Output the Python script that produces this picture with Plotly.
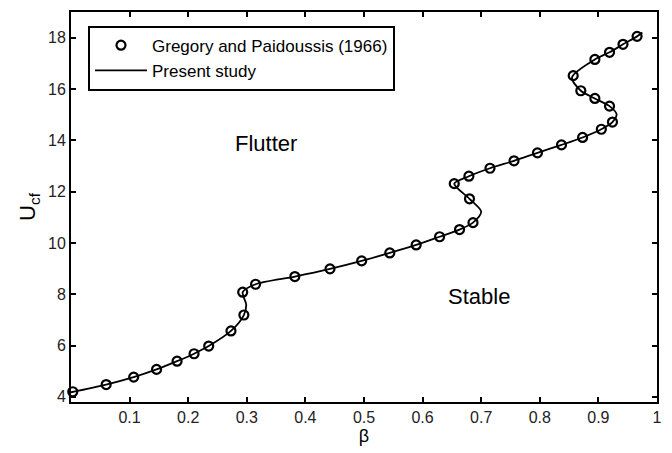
import plotly.graph_objects as go

# Experimental data: Gregory and Paidoussis (1966)
beta_exp = [0.003, 0.060, 0.107, 0.146, 0.181, 0.210, 0.235, 0.273, 0.295, 0.293,
            0.315, 0.382, 0.442, 0.496, 0.544, 0.589, 0.629, 0.663, 0.686, 0.680,
            0.654, 0.679, 0.715, 0.756, 0.796, 0.837, 0.873, 0.905, 0.924, 0.919,
            0.894, 0.870, 0.857, 0.894, 0.919, 0.942, 0.966]
U_exp = [4.20, 4.48, 4.77, 5.07, 5.39, 5.68, 5.98, 6.57, 7.19, 8.08,
         8.39, 8.69, 8.99, 9.30, 9.61, 9.92, 10.24, 10.52, 10.79, 11.72,
         12.31, 12.60, 12.91, 13.20, 13.51, 13.82, 14.11, 14.43, 14.71, 15.33,
         15.63, 15.93, 16.52, 17.15, 17.43, 17.74, 18.05]

# Present study curve
beta_th = [0.000, 0.060, 0.107, 0.146, 0.181, 0.210, 0.235, 0.273, 0.295, 0.299,
           0.293, 0.315, 0.382, 0.442, 0.496, 0.544, 0.589, 0.629, 0.663, 0.686,
           0.700, 0.680, 0.654, 0.679, 0.715, 0.756, 0.796, 0.837, 0.873, 0.905,
           0.924, 0.931, 0.919, 0.894, 0.870, 0.855, 0.894, 0.919, 0.942, 0.966,
           0.975]
U_th = [4.18, 4.48, 4.77, 5.07, 5.39, 5.68, 5.98, 6.57, 7.19, 7.60,
        8.08, 8.39, 8.69, 8.99, 9.30, 9.61, 9.92, 10.24, 10.52, 10.79,
        11.22, 11.72, 12.31, 12.60, 12.91, 13.20, 13.51, 13.82, 14.11, 14.43,
        14.71, 15.02, 15.33, 15.63, 15.93, 16.45, 17.15, 17.43, 17.74, 18.05,
        18.20]

x_ticks = [0.1, 0.2, 0.3, 0.4, 0.5, 0.6, 0.7, 0.8, 0.9, 1.0]
x_tick_text = ["0.1", "0.2", "0.3", "0.4", "0.5", "0.6", "0.7", "0.8", "0.9", "1"]
y_ticks = [4, 6, 8, 10, 12, 14, 16, 18]

FONT = "Arial, Liberation Sans, sans-serif"

fig = go.Figure()
fig.add_trace(go.Scatter(
    x=beta_exp, y=U_exp, mode="markers", name="Gregory and Paidoussis (1966)",
    marker=dict(symbol="circle-open", size=9, color="black", line=dict(width=2.2)),
    cliponaxis=False,
))
fig.add_trace(go.Scatter(
    x=beta_th, y=U_th, mode="lines", name="Present study",
    line=dict(color="black", width=1.8, shape="spline", smoothing=0.8),
    cliponaxis=False,
))

fig.add_annotation(x=0.332, y=13.87, text="Flutter", showarrow=False,
                   font=dict(family=FONT, size=22, color="black"))
fig.add_annotation(x=0.697, y=7.93, text="Stable", showarrow=False,
                   font=dict(family=FONT, size=22, color="black"))

axis_common = dict(
    showline=True, linecolor="black", linewidth=2, mirror="allticks",
    ticks="inside", ticklen=5, tickwidth=2, tickcolor="black",
    showgrid=False, zeroline=False,
    tickfont=dict(family=FONT, size=16, color="#222"),
)

fig.update_layout(
    width=672, height=453,
    margin=dict(l=71, r=15, t=10, b=45),
    paper_bgcolor="white", plot_bgcolor="white",
    showlegend=True,
    legend=dict(
        x=0.029, y=0.965, xanchor="left", yanchor="top",
        bordercolor="black", borderwidth=2, bgcolor="white",
        font=dict(family=FONT, size=17, color="black"),
        tracegroupgap=0, itemwidth=52,
    ),
    xaxis=dict(range=[0, 1], tickvals=x_ticks, ticktext=x_tick_text,
               title=dict(text="β", font=dict(family=FONT, size=18, color="black"), standoff=4),
               **axis_common),
    yaxis=dict(range=[3.8, 19], tickvals=y_ticks,
               title=dict(text="U<sub>cf</sub>", font=dict(family=FONT, size=22, color="black"), standoff=6),
               **axis_common),
)

fig.write_html("out.html", config={"displayModeBar": False},
               post_script="document.body.style.margin='0';")
